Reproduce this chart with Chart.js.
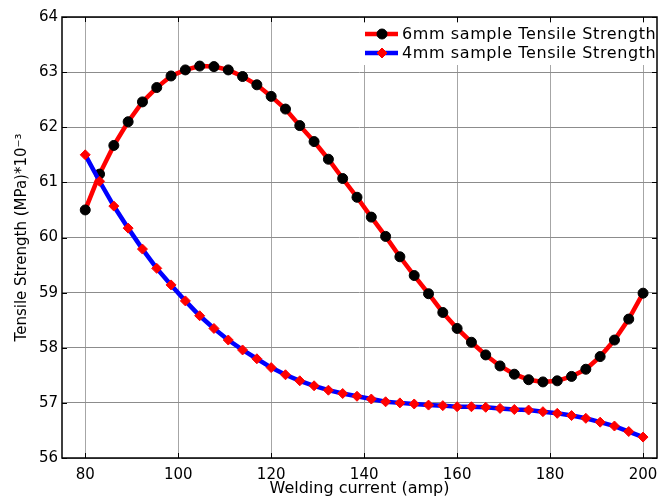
<!DOCTYPE html>
<html>
<head>
<meta charset="utf-8">
<title>Tensile Strength vs Welding Current</title>
<script src="https://cdn.jsdelivr.net/npm/chart.js@4.4.1/dist/chart.umd.min.js"></script>
<style>
  html, body { margin: 0; padding: 0; background: #fff; }
  #chart { display: block; }
</style>
</head>
<body>
<canvas id="chart" width="663" height="496"></canvas>
<script>
// Welding current (amp), 40 samples between 80 and 200
const currents = [
    80.00, 83.08, 86.15, 89.23, 92.31, 95.38, 98.46, 101.54, 104.62, 107.69,
    110.77, 113.85, 116.92, 120.00, 123.08, 126.15, 129.23, 132.31, 135.38, 138.46,
    141.54, 144.62, 147.69, 150.77, 153.85, 156.92, 160.00, 163.08, 166.15, 169.23,
    172.31, 175.38, 178.46, 181.54, 184.62, 187.69, 190.77, 193.85, 196.92, 200.00
];

// Tensile strength (MPa)*10^-3
const strength6mm = [
    60.50, 61.15, 61.67, 62.10, 62.46, 62.72, 62.93, 63.04, 63.11, 63.10,
    63.04, 62.92, 62.77, 62.56, 62.33, 62.03, 61.74, 61.42, 61.07, 60.73,
    60.37, 60.02, 59.65, 59.31, 58.98, 58.64, 58.35, 58.10, 57.87, 57.67,
    57.52, 57.42, 57.38, 57.40, 57.48, 57.61, 57.84, 58.14, 58.52, 58.99
];
const strength4mm = [
    61.50, 61.02, 60.57, 60.17, 59.79, 59.44, 59.14, 58.85, 58.58, 58.35,
    58.14, 57.96, 57.80, 57.64, 57.51, 57.40, 57.31, 57.23, 57.17, 57.12,
    57.07, 57.02, 57.00, 56.98, 56.96, 56.95, 56.93, 56.93, 56.92, 56.90,
    56.88, 56.87, 56.84, 56.81, 56.77, 56.72, 56.65, 56.58, 56.48, 56.38
];

const xTicks = [80, 100, 120, 140, 160, 180, 200];
const yTicks = [56, 57, 58, 59, 60, 61, 62, 63, 64];
const seriesLabels = ['6mm sample Tensile Strength', '4mm sample Tensile Strength'];

Chart.defaults.font.family = 'DejaVu Sans';
Chart.defaults.color = '#000';

// Box round the plot with inward tick marks, like the matlab figure
const framePlugin = {
    id: 'frame',
    beforeDatasetsDraw(chart) {
        const {ctx, chartArea: a, scales: {x, y}} = chart;
        ctx.save();
        ctx.strokeStyle = '#000';
        ctx.lineWidth = 1;
        ctx.beginPath();
        xTicks.forEach(v => {
            const px = Math.round(x.getPixelForValue(v)) + 0.5;
            ctx.moveTo(px, a.bottom);
            ctx.lineTo(px, a.bottom - 5);
            ctx.moveTo(px, a.top);
            ctx.lineTo(px, a.top + 5);
        });
        yTicks.forEach(v => {
            const py = Math.round(y.getPixelForValue(v)) + 0.5;
            ctx.moveTo(a.left, py);
            ctx.lineTo(a.left + 5, py);
            ctx.moveTo(a.right, py);
            ctx.lineTo(a.right - 5, py);
        });
        ctx.stroke();
        ctx.lineWidth = 1.5;
        ctx.strokeRect(a.left, a.top, a.right - a.left, a.bottom - a.top);
        ctx.restore();
    }
};

// Legend in the top right corner of the plot
const legendPlugin = {
    id: 'innerLegend',
    afterDatasetsDraw(chart) {
        const {ctx, chartArea: a} = chart;
        const boxLeft = 358;
        ctx.save();
        ctx.fillStyle = '#fff';
        ctx.fillRect(boxLeft, a.top + 6, a.right - boxLeft - 1, 42);
        chart.data.datasets.forEach((ds, i) => {
            const rowY = 34 + i * 19;
            ctx.strokeStyle = ds.borderColor;
            ctx.lineWidth = ds.borderWidth;
            ctx.beginPath();
            ctx.moveTo(365, rowY);
            ctx.lineTo(398, rowY);
            ctx.stroke();
            ctx.fillStyle = ds.pointBackgroundColor;
            ctx.strokeStyle = ds.pointBorderColor;
            ctx.lineWidth = ds.pointBorderWidth;
            Chart.helpers.drawPoint(ctx, {
                pointStyle: ds.pointStyle,
                radius: ds.pointRadius,
                borderWidth: ds.pointBorderWidth,
                rotation: 0
            }, 382, rowY);
            ctx.fillStyle = '#000';
            ctx.font = '16px "DejaVu Sans"';
            ctx.letterSpacing = '0.6px';
            ctx.textBaseline = 'middle';
            ctx.textAlign = 'left';
            ctx.fillText(seriesLabels[i], 402, rowY + 1);
        });
        ctx.restore();
    }
};

const ctx = document.getElementById('chart').getContext('2d');

new Chart(ctx, {
    type: 'line',
    data: {
        datasets: [{
            label: seriesLabels[0],
            data: currents.map((c, i) => ({x: c, y: strength6mm[i]})),
            borderColor: '#ff0000',
            borderWidth: 4.5,
            pointStyle: 'circle',
            pointRadius: 5,
            pointBackgroundColor: '#000',
            pointBorderColor: '#000',
            pointBorderWidth: 1,
            tension: 0,
            order: 1
        }, {
            label: seriesLabels[1],
            data: currents.map((c, i) => ({x: c, y: strength4mm[i]})),
            borderColor: '#0000ff',
            borderWidth: 4.5,
            pointStyle: 'rectRot',
            pointRadius: 5,
            pointBackgroundColor: '#ff0000',
            pointBorderColor: '#ff0000',
            pointBorderWidth: 1,
            tension: 0,
            order: 0
        }]
    },
    options: {
        responsive: false,
        animation: false,
        layout: {
            padding: {top: 17, right: 4, left: 0, bottom: 0}
        },
        plugins: {
            legend: {display: false},
            tooltip: {enabled: false}
        },
        scales: {
            x: {
                type: 'linear',
                min: 75,
                max: 203,
                afterBuildTicks: s => { s.ticks = xTicks.map(v => ({value: v})); },
                afterFit: s => {
                    s.height = 38;
                    s.paddingLeft = 0;
                    s.paddingRight = 0;
                },
                grid: {color: '#a6a6a6', lineWidth: 1, drawTicks: false},
                border: {display: false},
                ticks: {font: {size: 15}, padding: 8, maxRotation: 0},
                title: {
                    display: true,
                    text: 'Welding current (amp)',
                    font: {size: 16},
                    padding: {top: 0, bottom: -2}
                }
            },
            y: {
                min: 56,
                max: 64,
                afterBuildTicks: s => { s.ticks = yTicks.map(v => ({value: v})); },
                afterFit: s => {
                    s.width = 62;
                    s.paddingTop = 0;
                    s.paddingBottom = 0;
                },
                grid: {color: '#8c8c8c', lineWidth: 1, drawTicks: false},
                border: {display: false},
                ticks: {font: {size: 15}, padding: 4},
                title: {
                    display: true,
                    text: 'Tensile Strength (MPa)*10⁻³',
                    font: {size: 15},
                    padding: {top: 13, bottom: 0}
                }
            }
        }
    },
    plugins: [framePlugin, legendPlugin]
});
</script>
</body>
</html>
